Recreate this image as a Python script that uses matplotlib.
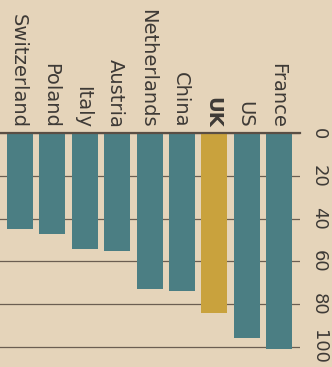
import matplotlib.pyplot as plt

countries = ["Switzerland", "Poland", "Italy", "Austria", "Netherlands",
             "China", "UK", "US", "France"]
values = [45, 47, 54, 55, 73, 74, 84, 96, 101]
ticks = [0, 20, 40, 60, 80, 100]

paper = "#e5d4ba"
teal = "#4b7e83"
gold = "#c9a23d"
ink = "#3e3a36"

fig = plt.figure(figsize=(3.32, 3.67), dpi=100, facecolor=paper)
# axes: left edge at 0 px, right edge at 300 px, zero line at 133 px from top
ax = fig.add_axes([0, 0, 300 / 332, 1 - 133.3 / 367], facecolor=paper)

colors = [gold if c == "UK" else teal for c in countries]
x = range(len(countries))
ax.bar(x, values, width=0.8, color=colors, zorder=2)

ax.set_xlim(-0.617, 8.64)
ax.set_ylim(109.5, 0)  # values grow downward

ax.set_yticks(ticks)
ax.yaxis.tick_right()
ax.set_yticklabels([str(t) for t in ticks], rotation=270, va="center",
                   fontsize=13, color=ink)
ax.tick_params(axis="y", length=0, pad=7)
ax.set_xticks([])
ax.grid(axis="y", color="#6b5e52", linewidth=0.9, zorder=1)

for s in ["left", "right", "bottom"]:
    ax.spines[s].set_visible(False)
ax.spines["top"].set_color("#5a4e44")
ax.spines["top"].set_linewidth(1.6)

for i, name in enumerate(countries):
    ax.annotate(name, xy=(i, 0), xytext=(0, 4), textcoords="offset points",
                rotation=270, rotation_mode="anchor", ha="right",
                va="center_baseline", fontsize=14, color=ink,
                fontweight="bold" if name == "UK" else "normal",
                annotation_clip=False)

fig.savefig("out.png", dpi=100, facecolor=paper)
